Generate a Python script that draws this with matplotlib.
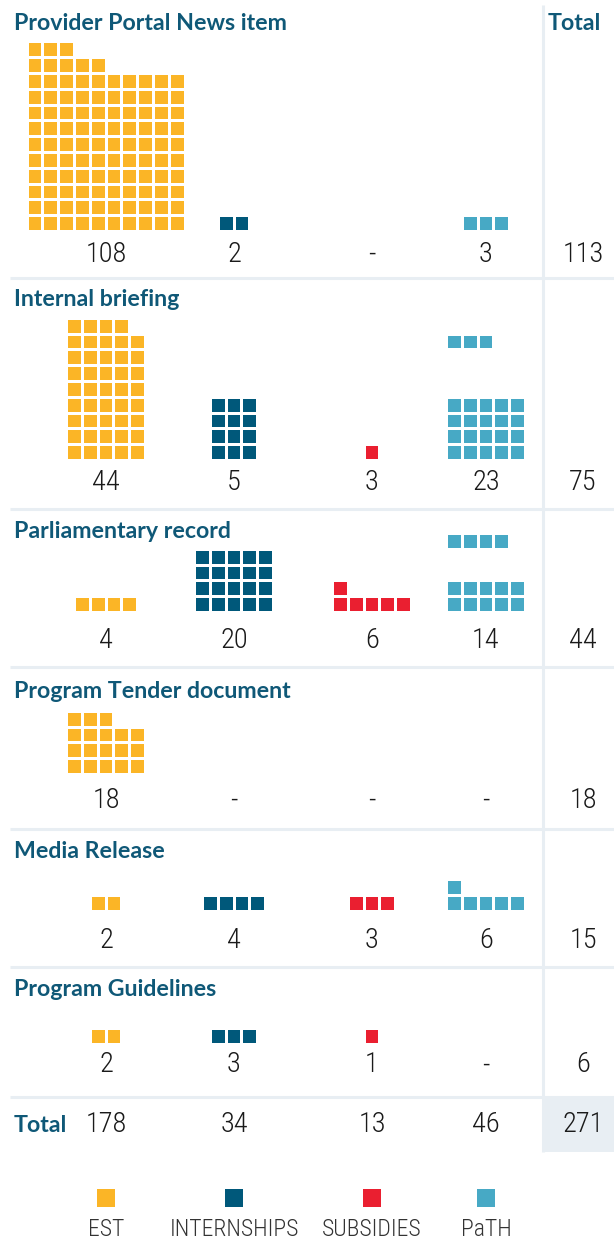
import matplotlib
matplotlib.use("Agg")
import matplotlib.pyplot as plt
from matplotlib import font_manager
from matplotlib.patches import Rectangle

# data
categories = ["Provider Portal News item", "Internal briefing", "Parliamentary record",
              "Program Tender document", "Media Release", "Program Guidelines"]
programs = ["EST", "INTERNSHIPS", "SUBSIDIES", "PaTH"]
est = [108, 44, 4, 18, 2, 2]
internships = [2, 5, 20, None, 4, 3]
subsidies = [None, 3, 6, None, 3, 1]
path = [3, 23, 14, None, 6, None]
row_totals = [113, 75, 44, 18, 15, 6]
col_totals = [178, 34, 13, 46]
grand_total = 271

# squares per row (bottom row first) as they appear in the source graphic
est_rows = [[10] * 10 + [5, 3], [5] * 8 + [4], [4], [5, 5, 5, 3], [2], [2]]
internships_rows = [[2], [3, 3, 3, 3], [5, 5, 5, 5], [], [4], [3]]
subsidies_rows = [[], [1], [5, 1], [], [3], [1]]
path_rows = [[3], [5, 5, 5, 5, 0, 0, 0, 3], [5, 5, 0, 0, 4], [], [5, 1], []]

colors = ["#fbb526", "#00587a", "#ea1f30", "#47a9c5"]
title_c = "#0f5877"
line_c = "#e8eef3"

# fonts
installed = {f.name for f in font_manager.fontManager.ttflist}
def pick(names):
    for n in names:
        if n in installed:
            return n
    return "DejaVu Sans"
num_font = pick(["Liberation Sans Narrow", "Roboto Condensed", "Open Sans", "Lato"])
head_font = pick(["Lato", "Open Sans", "Noto Sans"])

# layout (pixels)
W, H = 614, 1241
col_x = [106, 234, 372, 486]
total_x = 583
title_y = [23, 300, 531, 691, 852, 989]
base_y = [230, 459, 611, 773, 910, 1043]
num_y = [254, 483, 640, 800, 941, 1065]
sep_y = [278, 509, 667, 829, 967, 1097]
pitch, size = 15.8, 12.8
head_fs, num_fs = 16.7, 20.5
num_kw = dict(fontsize=num_fs, family=num_font, fontweight="light",
              color="#1a1a1a", ha="center", va="center")

fig = plt.figure(figsize=(W / 100, H / 100), dpi=100)
ax = fig.add_axes([0, 0, 1, 1])
ax.set_xlim(0, W)
ax.set_ylim(H, 0)
ax.axis("off")

# grid lines
for y in sep_y:
    ax.plot([10, W], [y, y], color=line_c, lw=2.2, solid_capstyle="butt")
ax.plot([543, 543], [5, 1152], color=line_c, lw=2.2, solid_capstyle="butt")
ax.add_patch(Rectangle((544.5, 1099), W - 544.5, 53, color=line_c, lw=0))

ax.text(548, 23, "Total", color=title_c, fontsize=head_fs, fontweight="bold",
        family=head_font, va="center", ha="left")

values = [est, internships, subsidies, path]
layouts = [est_rows, internships_rows, subsidies_rows, path_rows]

for i, cat in enumerate(categories):
    ax.text(14, title_y[i], cat, color=title_c, fontsize=head_fs, fontweight="bold",
            family=head_font, va="center", ha="left")
    for j in range(4):
        rows = layouts[j][i]
        if rows:
            width = max(rows)
            x0 = col_x[j] - (width * pitch - (pitch - size)) / 2
            for r, n in enumerate(rows):
                for k in range(n):
                    ax.add_patch(Rectangle((x0 + k * pitch, base_y[i] - r * pitch - size),
                                           size, size, color=colors[j], lw=0))
        v = values[j][i]
        ax.text(col_x[j], num_y[i], "-" if v is None else str(v), **num_kw)
    ax.text(total_x, num_y[i], str(row_totals[i]), **num_kw)

# total row
ax.text(14, 1126, "Total", color=title_c, fontsize=head_fs, fontweight="bold",
        family=head_font, va="center", ha="left")
for j in range(4):
    ax.text(col_x[j], 1125, str(col_totals[j]), **num_kw)
ax.text(total_x, 1125, str(grand_total), **num_kw)

# legend
for j, p in enumerate(programs):
    ax.add_patch(Rectangle((col_x[j] - 9, 1189), 18, 18, color=colors[j], lw=0))
    ax.text(col_x[j], 1229, p, fontsize=17, family=num_font, fontweight="light",
            color="#333333", ha="center", va="center")

fig.savefig("out.png", dpi=100)
